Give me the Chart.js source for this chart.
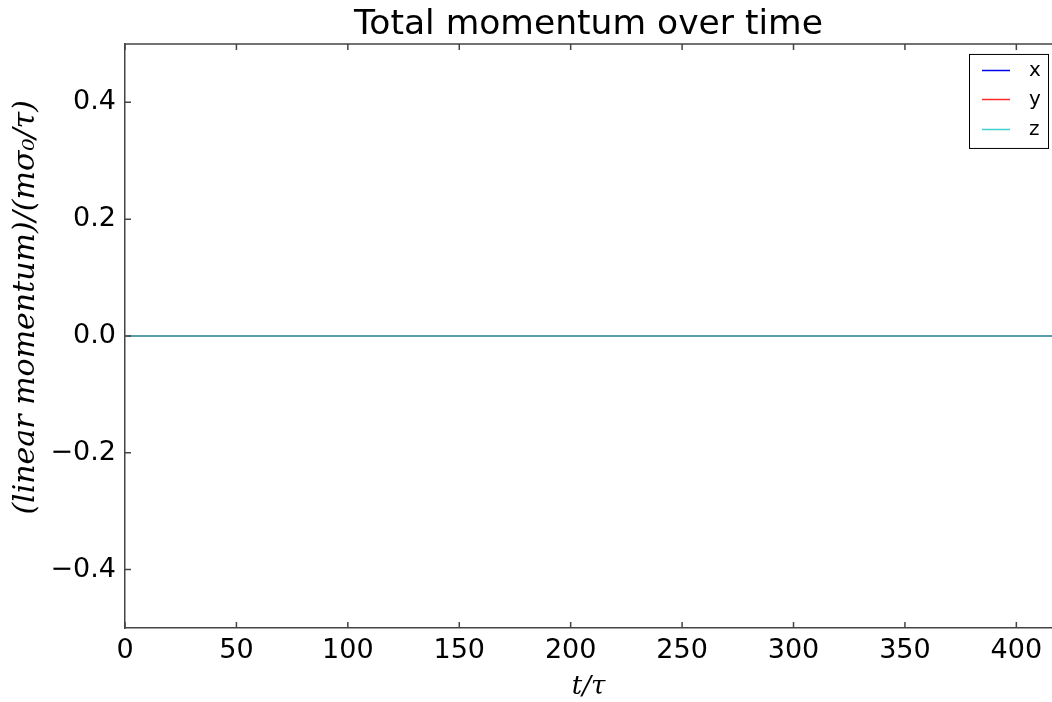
<!DOCTYPE html>
<html>
<head>
<meta charset="utf-8">
<title>Total momentum over time</title>
<script src="https://cdn.jsdelivr.net/npm/chart.js@4/dist/chart.umd.min.js"></script>
<style>
  html, body { margin: 0; padding: 0; background: #fff; }
  #momentum { display: block; }
</style>
</head>
<body>
<canvas id="momentum" width="1052" height="702"></canvas>
<script>
// time samples (t/tau) and total momentum components
const times = [0, 50, 100, 150, 200, 250, 300, 350, 400, 450];
const momentumX = [0, 0, 0, 0, 0, 0, 0, 0, 0, 0];
const momentumY = [0, 0, 0, 0, 0, 0, 0, 0, 0, 0];
const momentumZ = [0, 0, 0, 0, 0, 0, 0, 0, 0, 0];

const xTicks = [0, 50, 100, 150, 200, 250, 300, 350, 400];
const yTicks = [-0.4, -0.2, 0.0, 0.2, 0.4];
const yTickLabels = ['\u22120.4', '\u22120.2', '0.0', '0.2', '0.4'];

const seriesNames = ['x', 'y', 'z'];
const seriesColors = ['#0000ee', '#ff2a2a', '#40d0d0'];

const toPoints = vals => times.map((t, i) => ({ x: t, y: vals[i] }));

const axisColor = '#444';

// matplotlib-ish frame: top edge + inward ticks
const frameTicks = {
  id: 'frameTicks',
  afterDraw(chart) {
    const { ctx, chartArea: a, scales } = chart;
    ctx.save();
    ctx.strokeStyle = axisColor;
    ctx.lineWidth = 1.5;
    ctx.beginPath();
    ctx.moveTo(a.left, a.top);
    ctx.lineTo(a.right, a.top);
    xTicks.forEach(v => {
      const px = scales.x.getPixelForValue(v);
      ctx.moveTo(px, a.bottom); ctx.lineTo(px, a.bottom - 6);
      ctx.moveTo(px, a.top); ctx.lineTo(px, a.top + 6);
    });
    yTicks.forEach(v => {
      const py = scales.y.getPixelForValue(v);
      ctx.moveTo(a.left, py); ctx.lineTo(a.left + 6, py);
    });
    ctx.stroke();
    ctx.restore();
  }
};

// boxed legend in the upper right corner of the plot
const boxLegend = {
  id: 'boxLegend',
  afterDraw(chart) {
    const { ctx, chartArea: a } = chart;
    const w = 79, h = 94;
    const x0 = a.right - w - 4, y0 = a.top + 10;
    ctx.save();
    ctx.fillStyle = '#fff';
    ctx.fillRect(x0, y0, w, h);
    ctx.strokeStyle = '#000';
    ctx.lineWidth = 1;
    ctx.strokeRect(x0 + 0.5, y0 + 0.5, w, h);
    ctx.font = '20px "DejaVu Sans"';
    ctx.textBaseline = 'middle';
    ctx.textAlign = 'left';
    seriesNames.forEach((name, i) => {
      const ly = Math.round(y0 + 16 + i * 29.5) + 0.5;
      ctx.strokeStyle = seriesColors[i];
      ctx.lineWidth = 1.5;
      ctx.beginPath();
      ctx.moveTo(x0 + 13, ly);
      ctx.lineTo(x0 + 41, ly);
      ctx.stroke();
      ctx.fillStyle = '#000';
      ctx.fillText(name, x0 + 60, ly);
    });
    ctx.restore();
  }
};

new Chart(document.getElementById('momentum'), {
  type: 'line',
  data: {
    datasets: [
      { label: 'x', data: toPoints(momentumX), borderColor: seriesColors[0], borderWidth: 1, pointRadius: 0, order: 3 },
      { label: 'y', data: toPoints(momentumY), borderColor: seriesColors[1], borderWidth: 1, pointRadius: 0, order: 2 },
      // z lies on top of x and y, the overlap reads as a muted teal
      { label: 'z', data: toPoints(momentumZ), borderColor: '#5a9dab', borderWidth: 2, pointRadius: 0, order: 1 }
    ]
  },
  options: {
    responsive: false,
    animation: false,
    layout: { padding: 0 },
    plugins: {
      legend: { display: false },
      tooltip: { enabled: false },
      title: {
        display: true,
        text: 'Total momentum over time',
        fullSize: false,
        color: '#000',
        font: { family: '"DejaVu Sans"', size: 34.5, weight: 'normal', lineHeight: 1.1 },
        padding: { top: 6, bottom: 0 }
      }
    },
    scales: {
      x: {
        type: 'linear',
        min: 0,
        max: 416,
        afterBuildTicks: s => { s.ticks = xTicks.map(v => ({ value: v })); },
        afterFit: s => { s.height = 74; },
        grid: { display: false, drawTicks: false },
        border: { display: true, color: axisColor, width: 1.5 },
        ticks: {
          color: '#000',
          padding: 7,
          maxRotation: 0,
          autoSkip: false,
          font: { family: '"DejaVu Sans"', size: 27 }
        },
        title: {
          display: true,
          text: 't/\u03c4',
          color: '#000',
          font: { family: '"DejaVu Serif"', style: 'italic', size: 26, lineHeight: 1.1 },
          padding: { top: 0, bottom: 0 }
        }
      },
      y: {
        min: -0.5,
        max: 0.5,
        afterBuildTicks: s => { s.ticks = yTicks.map(v => ({ value: v })); },
        afterFit: s => { s.width = 125; },
        grid: { display: false, drawTicks: false },
        border: { display: true, color: axisColor, width: 1.5 },
        ticks: {
          color: '#000',
          padding: 9,
          autoSkip: false,
          font: { family: '"DejaVu Sans"', size: 27 },
          callback: v => {
            const i = yTicks.findIndex(t => Math.abs(t - v) < 1e-9);
            return i >= 0 ? yTickLabels[i] : '';
          }
        },
        title: {
          display: true,
          // leading blanks nudge the label up the axis
          text: '\u00a0\u00a0\u00a0\u00a0\u00a0\u00a0(linear momentum)/(m\u03c3\u2080/\u03c4)',
          color: '#000',
          font: { family: '"DejaVu Serif"', style: 'italic', size: 30, lineHeight: 1.2 },
          padding: { top: 8, bottom: 0 }
        }
      }
    }
  },
  plugins: [frameTicks, boxLegend]
});
</script>
</body>
</html>
